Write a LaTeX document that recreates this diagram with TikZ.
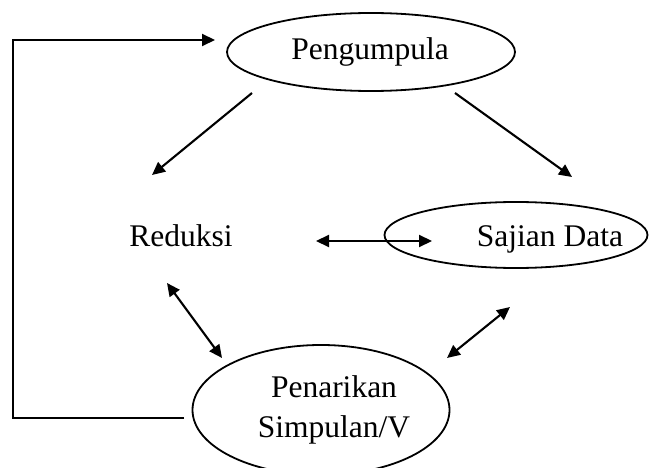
\documentclass[tikz,border=0pt]{standalone}
\usepackage{fontspec}
\setmainfont{Liberation Serif}
\usetikzlibrary{shapes.geometric,arrows.meta}
\begin{document}
\begin{tikzpicture}[x=1pt,y=-1pt,
  oval/.style={draw,ellipse,line width=1.8pt,inner sep=0pt},
  lbl/.style={font=\fontsize{31.5}{40}\selectfont,anchor=base,inner sep=0pt},
  tip/.tip={Triangle[length=13pt,width=12pt]},
  conn/.style={line width=2.1pt,-tip},
  dconn/.style={line width=2.1pt,tip-tip}]
\useasboundingbox (0,0) rectangle (649,468);
% ellipses
\node[oval,minimum width=288pt,minimum height=78pt] (pengE) at (371,52) {};
\node[oval,minimum width=263pt,minimum height=66pt] (sajE) at (516,235) {};
\node[oval,minimum width=257pt,minimum height=130pt] (tarE) at (321,410) {};
% labels
\node[lbl] (peng) at (370,60) {Pengumpula};
\node[lbl] (saj) at (550,247) {Sajian Data};
\node[lbl] (red) at (181,247) {Reduksi};
\node[lbl] (tarA) at (334,397) {Penarikan};
\node[lbl] (tarB) at (334,437) {Simpulan/V};
% connector end points
\coordinate (a1) at (252,93);
\coordinate (a2) at (152,175);
\coordinate (b1) at (455,93);
\coordinate (b2) at (572,177);
\coordinate (c1) at (316,241);
\coordinate (c2) at (432,241);
\coordinate (d1) at (167,283);
\coordinate (d2) at (222,358);
\coordinate (e1) at (510,307);
\coordinate (e2) at (447,358);
\coordinate (l0) at (184,418);
\coordinate (l1) at (13,418);
\coordinate (l2) at (13,40);
\coordinate (l3) at (215,40);
% connectors
\draw[conn] (a1) -- (a2);
\draw[conn] (b1) -- (b2);
\draw[dconn] (c1) -- (c2);
\draw[dconn] (d1) -- (d2);
\draw[dconn] (e1) -- (e2);
\draw[conn] (l0) -- (l1) -- (l2) -- (l3);
\end{tikzpicture}
\end{document}
